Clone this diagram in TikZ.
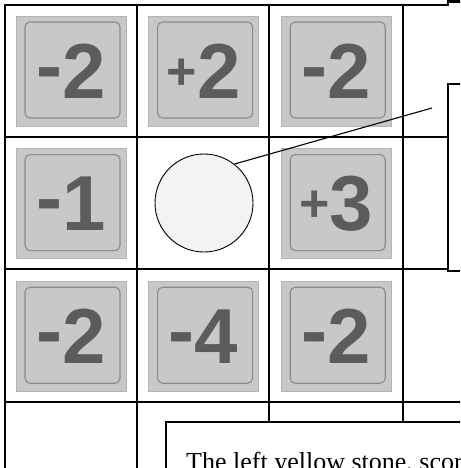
\documentclass[tikz,border=0pt]{standalone}
\usepackage{fontspec}
\setmainfont{Liberation Serif}
\newfontfamily\tilefont{Liberation Sans}
\usepackage{xcolor}
\usetikzlibrary{positioning}
\definecolor{Tgrain}{HTML}{C8C8C8}
\definecolor{Tedge}{HTML}{B4B4B4}
\definecolor{Tframe}{HTML}{8A8A8A}
\definecolor{Tink}{HTML}{5C5C5C}
\definecolor{Tstone}{HTML}{F3F3F3}
\newcommand{\mn}{\raisebox{6pt}{-}}
\newcommand{\pl}{\raisebox{9pt}{\fontsize{52}{52}\selectfont+}}

\begin{document}
\begin{tikzpicture}[
  x=1pt, y=-1pt,
  board/.style ={line width=2.2pt, line cap=rect},
  box/.style   ={line width=1.4pt},
  tile/.style  ={rectangle, fill=Tgrain, draw=Tedge, line width=0.6pt, minimum size=110pt, inner sep=0pt,
                 font=\tilefont\bfseries\fontsize{78}{80}\selectfont, text=Tink,
                 path picture={\draw[Tframe, line width=1.1pt, rounded corners=5pt]
                   ([xshift=9pt,yshift=-6pt]path picture bounding box.north west) rectangle
                   ([xshift=-6pt,yshift=8pt]path picture bounding box.south east);}},
  stone/.style ={circle, draw, line width=0.9pt, fill=Tstone, minimum size=98pt, inner sep=0pt},
]
\useasboundingbox (0,0) rectangle (460,468);
\clip (0,0) rectangle (460,468);

% ── board lines ──────────────────────────────────────────────────────
\draw[board] (5,5) -- (448,5) -- (448,1.5) -- (462,1.5);
\draw[board] (5,137) -- (448,137);
\draw[board] (5,269) -- (448,269);
\draw[board] (5,402) -- (462,402);
\draw[board] (5,5) -- (5,470);
\draw[board] (137,5) -- (137,470);
\draw[board] (269,5) -- (269,422);
\draw[board] (403,5) -- (403,422);

% ── score tiles ──────────────────────────────────────────────────────
\node[tile] (t11) at (71,71) {\mn2};
\node[tile, right=22pt of t11] (t12) {\pl2};
\node[tile, right=22pt of t12] (t13) {\mn2};
\node[tile, below=22pt of t11] (t21) {\mn1};
\node[tile, below=22pt of t13] (t23) {\pl3};
\node[tile, below=22pt of t21] (t31) {\mn2};
\node[tile, right=22pt of t31] (t32) {\mn4};
\node[tile, right=22pt of t32] (t33) {\mn2};

% ── the stone and its callout ────────────────────────────────────────
\node[stone] (stone) at (204,203) {};
\draw[box, fill=white] (448,84) rectangle (470,271);
\coordinate (tip) at (432,108);
\draw[line width=1.1pt] (stone.52) -- (tip);

% ── note box ─────────────────────────────────────────────────────────
\draw[box, fill=white] (166,422) rectangle (470,480);
\node[anchor=base west, inner sep=0pt, font=\fontsize{26}{30}\selectfont] (note) at (186,470)
  {The left yellow stone, scor};
\end{tikzpicture}
\end{document}
